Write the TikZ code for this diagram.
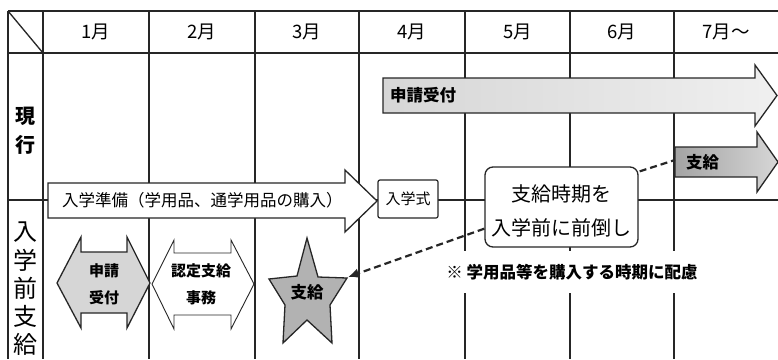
\documentclass[tikz,border=0pt]{standalone}
\usepackage{fontspec}
\setmainfont{Noto Sans CJK JP}
\usetikzlibrary{arrows.meta, calc, positioning}
\tikzset{
	grid/.style={line width=1.3pt, draw=black!85},
	month/.style={inner sep=0pt, font=\fontsize{18.5}{18.5}\selectfont},
	bar/.style={draw=black!85, line width=1.3pt, line join=miter},
	barlbl/.style={anchor=west, inner sep=0pt, font=\bfseries\fontsize{16.5}{16.5}\selectfont},
	tag/.style={draw=black!85, line width=1.2pt, fill=white, rounded corners=2pt,
		minimum width=60pt, minimum height=38pt, inner sep=0pt, font=\fontsize{15}{15}\selectfont},
	shiftbox/.style={draw=black!85, line width=1.3pt, fill=white, rounded corners=8pt,
		minimum width=153pt, minimum height=80pt, inner sep=0pt, align=center,
		font=\fontsize{20}{34.5}\selectfont},
	note/.style={fill=white, inner xsep=2pt, minimum height=42pt, font=\bfseries\fontsize{16.5}{16.5}\selectfont},
	link/.style={draw=black!85, line width=2.2pt, dash pattern=on 7pt off 4pt},
	inner/.style={inner sep=0pt, align=center, font=\bfseries\fontsize{15}{27}\selectfont},
}
\begin{document}
\begin{tikzpicture}[x=1pt, y=-1pt]
	\useasboundingbox[fill=white] (0,0) rectangle (778,359);

	% table
	\draw[grid] (8,11) -- (778,11);
	\draw[grid] (8,53) -- (778,53);
	\draw[grid] (8,11) -- (8,359);
	\draw[grid] (8,11) -- (43,53);
	\draw[grid] (8,200) -- (778,200);
	\foreach \x in {43,149,255,359,465,570,674}
		\draw[grid] (\x,11) -- (\x,359);

	\foreach \x/\m [count=\i] in {96/1月, 202/2月, 307/3月, 412/4月, 518/5月, 622/6月, 726/7月～}
		\node[month] (m\i) at (\x,32) {\m};

	\node[inner sep=0pt, align=center, font=\bfseries\fontsize{20}{29}\selectfont] (now) at (25,131) {現\\行};
	\node[inner sep=0pt, align=center, font=\fontsize{24}{28.3}\selectfont] (early) at (25,289) {入\\学\\前\\支\\給};

	% current schedule
	\draw[bar, left color=black!16, right color=black!6]
		(383,78) -- (755,78) -- (755,65) -- (777,95.5) -- (755,126) -- (755,113) -- (383,113) -- cycle;
	\node[barlbl] (apply) at (390,95.5) {申請受付};

	\draw[bar, left color=black!36, right color=black!16]
		(675,147) -- (757,147) -- (757,132) -- (778,162) -- (757,192) -- (757,177) -- (675,177) -- cycle;
	\node[barlbl] (pay) at (686,162) {支給};
	\coordinate (payin) at (675,160);

	% before entrance
	\draw[bar, fill=white]
		(48,183) -- (345,183) -- (345,170) -- (377,201) -- (345,232) -- (345,218) -- (48,218) -- cycle;
	\node[barlbl, font=\fontsize{16.5}{16.5}\selectfont] (prep) at (62,200) {入学準備（学用品、通学用品の購入）};
	\node[tag] (ceremony) at (408,199) {入学式};

	\draw[bar, fill=black!16]
		(57,283) -- (81,237) -- (81,252) -- (127,252) -- (127,237) -- (150,283)
		-- (127,328) -- (127,313) -- (81,313) -- (81,328) -- cycle;
	\node[inner] (apply2) at (104,284) {申請\\受付};

	\draw[bar, fill=white, line width=0.9pt]
		(152,284) -- (174,240) -- (174,253) -- (231,253) -- (231,240) -- (254,284)
		-- (231,329) -- (231,315) -- (174,315) -- (174,329) -- cycle;
	\node[inner] (approve) at (201,284) {認定支給\\事務};

	\draw[bar, fill=black!30]
		(307,238) -- (318,277) -- (347,278) -- (330,305) -- (332,343) -- (307,320)
		-- (283,343) -- (285,305) -- (269,279) -- (297,276) -- cycle;
	\node[inner, font=\bfseries\fontsize{16.5}{16.5}\selectfont] (star) at (307,292) {支給};
	\coordinate (starR) at (348,277);

	% shift of payment
	\node[shiftbox] (shift) at (561.5,207) {\rule{0pt}{25pt}支給時期を\\入学前に前倒し};
	\node[note] (remark) at (572,272) {※ 学用品等を購入する時期に配慮};

	\draw[link] ($(shift.north east)+(1,5)$) -- (payin);
	\draw[link, -{Latex[length=11pt, width=10pt]}] ($(shift.south west)+(0,-19)$) -- (starR);
\end{tikzpicture}
\end{document}
